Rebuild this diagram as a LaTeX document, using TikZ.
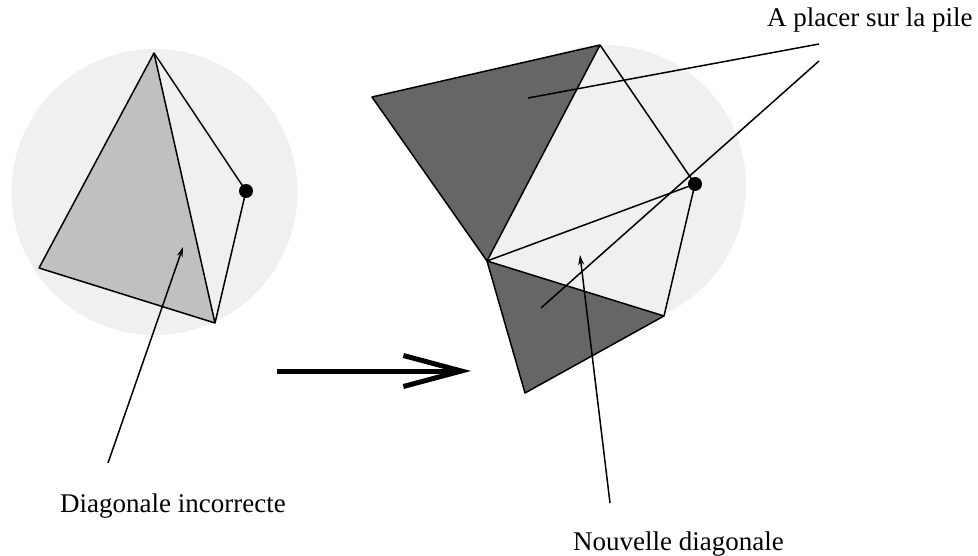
\documentclass[tikz,border=0pt]{standalone}
\usepackage{fontspec}
\setmainfont{Liberation Serif}
\usetikzlibrary{arrows.meta}
\definecolor{disc}{RGB}{240,240,240}
\definecolor{midgray}{RGB}{192,192,192}
\definecolor{darkgray}{RGB}{102,102,102}
\begin{document}
\begin{tikzpicture}[x=1pt,y=-1pt,
  edge/.style={line width=1.5pt,line join=round},
  pointer/.style={line width=1.5pt,-{Stealth[length=10pt,width=6pt]}},
  label/.style={font=\fontsize{27}{30}\selectfont,inner sep=0pt,anchor=base west},
  dot/.style={circle,fill=black,inner sep=0pt,minimum size=14pt}]
\useasboundingbox (0,0) rectangle (978,556);
% left figure
\fill[disc] (154.5,192) circle (143);
\coordinate (A) at (154,53);
\coordinate (B) at (39,268);
\coordinate (C) at (215,323);
\node[dot] (D) at (246,191) {};
\fill[midgray] (A) -- (B) -- (C) -- cycle;
\draw[edge] (A) -- (B) -- (C) -- cycle;
\draw[edge] (A) -- (D.center) -- (C);
% right figure
\fill[disc] (605,186) circle (141);
\coordinate (P) at (600,45);
\coordinate (Q) at (372,97);
\coordinate (R) at (487,261);
\node[dot] (S) at (695,184) {};
\coordinate (T) at (664,316);
\coordinate (U) at (525,393);
\fill[darkgray] (P) -- (Q) -- (R) -- cycle;
\fill[darkgray] (R) -- (T) -- (U) -- cycle;
\draw[edge] (P) -- (Q) -- (R) -- cycle;
\draw[edge] (R) -- (T) -- (U) -- cycle;
\draw[edge] (P) -- (S.center) -- (T);
\draw[edge] (R) -- (S.center);
% big arrow
\coordinate (bigS) at (277,371);
\coordinate (bigE) at (471,371);
\draw[line width=5pt,-{Straight Barb[length=58pt,width=31pt,line width=5pt]}] (bigS) -- (bigE);
% labels
\node[label] (pile) at (767,27) {A placer sur la pile};
\node[label] (inc) at (60,512) {Diagonale incorrecte};
\node[label] (nouv) at (573,550) {Nouvelle diagonale};
\coordinate (p1s) at (528,98);
\coordinate (p1e) at (819,44);
\coordinate (p2s) at (541,308);
\coordinate (p2e) at (819,61);
\draw[edge] (p1s) -- (p1e);
\draw[edge] (p2s) -- (p2e);
\coordinate (incS) at (108,463);
\coordinate (incT) at (183,247);
\draw[pointer] (incS) -- (incT);
\coordinate (nouvS) at (610,503);
\coordinate (nouvT) at (580,255);
\draw[pointer] (nouvS) -- (nouvT);
\end{tikzpicture}
\end{document}
